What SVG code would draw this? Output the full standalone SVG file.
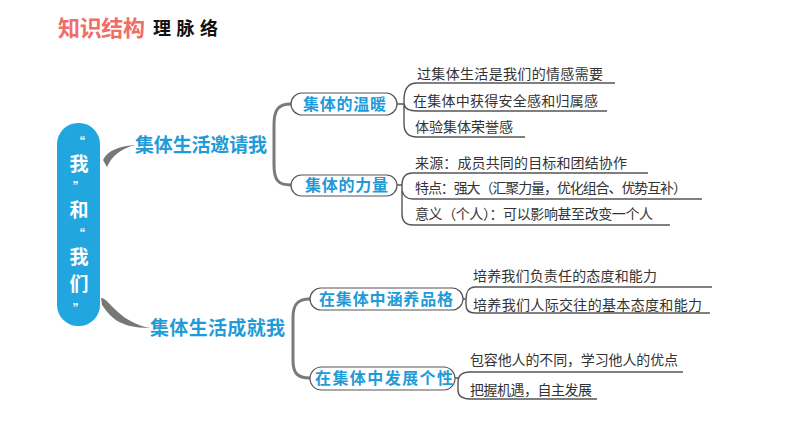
<svg xmlns="http://www.w3.org/2000/svg" width="794" height="447" viewBox="0 0 794 447">
<style>
.bl{font-family:"Noto Sans CJK SC","Liberation Sans",sans-serif;font-weight:bold;fill:#1f9bd7}
.lf{font-family:"Noto Sans CJK SC","Liberation Sans",sans-serif;font-size:14px;fill:#333}
.pill{fill:#fff;stroke:#555;stroke-width:1.2}
.br{fill:none;stroke:#7a7a7a;stroke-width:3;stroke-linecap:round}
.ln{fill:none;stroke:#555;stroke-width:1.4}
.ct{font-family:"Noto Sans CJK SC","Liberation Sans",sans-serif;font-weight:bold;fill:#fff;text-anchor:middle}
.q{font-size:12px}
.c{font-size:19px}
</style>
<rect width="794" height="447" fill="#fff"/>
<g id="title">
<text x="58" y="36" font-family="Noto Sans CJK SC, Liberation Sans, sans-serif" font-weight="bold" font-size="22" fill="#f26d6a" textLength="87">知识结构</text>
<text x="153" y="35" font-family="Noto Sans CJK SC, Liberation Sans, sans-serif" font-weight="bold" font-size="18" fill="#111" textLength="65">理脉络</text>
</g>
<g id="connectors">
<path d="M103,160 C108,150 120,146 136,145 C121,148 112,156 107,167 Z" fill="#777"/>
<path d="M101,298 C108,297 118,322 150,328 C118,328 110,316 102,305 Z" fill="#777"/>
<path class="br" d="M291,104 C278,104 274,110 274,125 L274,165 C274,180 278,185 291,185"/>
<path class="br" d="M310,299 C297,299 293,305 293,318 L293,360 C293,373 297,378 310,378"/>
<path class="ln" d="M397,104 H404 M417,83 C407,83 404,90 404,100 L404,124 C404,132 408,137 417,137 H525 M417,83 H615 M404,104 C405,109 409,111 417,111 H607"/>
<path class="ln" d="M397,185 H402 M413,173 C405,173 402,178 402,185 L402,214 C402,221 405,225 413,225 H670 M413,173 H648 M402,190 C403,196 406,199 413,199 H702"/>
<path class="ln" d="M463,299 H466 M475,287 C469,287 466,292 466,299 L466,305 C466,310 469,313 475,313 H710 M475,287 H712"/>
<path class="ln" d="M455,378 H458 M470,372 C462,372 458,376 458,382 L458,390 C458,396 462,399 470,399 H597 M470,372 H683"/>
</g>
<g id="center">
<rect x="57" y="123" width="43" height="203" rx="21" fill="#22a6df"/>
<text class="ct"><tspan class="q" x="79" y="147">“</tspan><tspan class="c" x="79" y="171">我</tspan><tspan class="q" x="79" y="192">”</tspan><tspan class="c" x="79" y="217">和</tspan><tspan class="q" x="79" y="239">“</tspan><tspan class="c" x="79" y="264">我</tspan><tspan class="c" x="79" y="291">们</tspan><tspan class="q" x="79" y="314">”</tspan></text>
</g>
<g id="b1"><text class="bl" x="135" y="152" font-size="19" textLength="132">集体生活邀请我</text></g>
<g id="b2"><text class="bl" x="150" y="335" font-size="19" textLength="135">集体生活成就我</text></g>
<g id="n1"><rect class="pill" x="291" y="93" width="106" height="22" rx="11"/><text class="bl" x="303" y="110" font-size="16" textLength="83">集体的温暖</text></g>
<g id="n2"><rect class="pill" x="291" y="175" width="106" height="21" rx="10.5"/><text class="bl" x="305" y="191" font-size="16" textLength="83">集体的力量</text></g>
<g id="n3"><rect class="pill" x="310" y="288" width="153" height="22" rx="11"/><text class="bl" x="319" y="305" font-size="16" textLength="134">在集体中涵养品格</text></g>
<g id="n4"><rect class="pill" x="310" y="367" width="145" height="23" rx="11.5"/><text class="bl" x="315" y="384" font-size="16" textLength="138">在集体中发展个性</text></g>
<g id="leaves">
<text class="lf" x="417" y="79" textLength="186">过集体生活是我们的情感需要</text>
<text class="lf" x="413" y="106" textLength="185">在集体中获得安全感和归属感</text>
<text class="lf" x="415" y="132" textLength="98">体验集体荣誉感</text>
<text class="lf" x="415" y="168" textLength="212">来源：成员共同的目标和团结协作</text>
<text class="lf" x="415" y="193" textLength="272">特点：强大（汇聚力量，优化组合、优势互补）</text>
<text class="lf" x="415" y="219" textLength="238">意义（个人）：可以影响甚至改变一个人</text>
<text class="lf" x="473" y="281" textLength="184">培养我们负责任的态度和能力</text>
<text class="lf" x="473" y="310" textLength="229">培养我们人际交往的基本态度和能力</text>
<text class="lf" x="470" y="365" textLength="208">包容他人的不同，学习他人的优点</text>
<text class="lf" x="470" y="395" textLength="122">把握机遇，自主发展</text>
</g>
</svg>
